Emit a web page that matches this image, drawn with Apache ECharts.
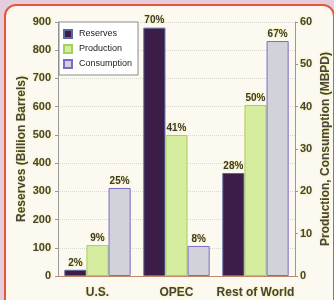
<!DOCTYPE html>
<html>
<head>
<meta charset="utf-8">
<script src="https://cdn.jsdelivr.net/npm/echarts@6/dist/echarts.min.js"></script>
<style>
  html, body { margin: 0; padding: 0; }
  body { width: 334px; height: 300px; background: #e4cddd; overflow: hidden; position: relative; }
  #frame {
    position: absolute; left: 4px; top: 4px; width: 327px; height: 310px;
    background: #fbf9f0; border: 2px solid #e8563a; border-radius: 12px;
  }
  #chart { position: absolute; left: 0; top: 0; width: 334px; height: 300px; }
</style>
</head>
<body>
<div id="frame"></div>
<div id="chart"></div>
<script>
var regions = ['U.S.', 'OPEC', 'Rest of World'];
var reserves = [22, 880, 365];
var production = [7.3, 33.3, 40.4];
var consumption = [20.8, 7.1, 55.5];
var reservesPct = ['2%', '70%', '28%'];
var productionPct = ['9%', '41%', '50%'];
var consumptionPct = ['25%', '8%', '67%'];

var glow = { textShadowColor: '#f2e25a', textShadowBlur: 2 };

function pctLabel(pcts) {
  return Object.assign({
    show: true,
    position: 'top',
    distance: 2,
    color: '#3a3a3a',
    fontSize: 10,
    fontWeight: 'bold',
    fontFamily: 'Liberation Sans',
    formatter: function (p) { return pcts[p.dataIndex]; }
  }, glow);
}

var chart = echarts.init(document.getElementById('chart'));

chart.setOption({
  animation: false,
  backgroundColor: 'transparent',
  textStyle: { fontFamily: 'Liberation Sans' },
  grid: { left: 58, right: 39, top: 22, bottom: 24, outerBoundsMode: 'none' },
  legend: {
    left: 59, top: 22,
    orient: 'vertical',
    itemWidth: 8, itemHeight: 8, itemGap: 5,
    padding: [7, 6, 6, 4],
    backgroundColor: '#ffffff',
    borderColor: '#8a8a8a', borderWidth: 1,
    icon: 'rect',
    textStyle: { fontSize: 9, color: '#222', padding: [0, 0, 0, 2] },
    data: ['Reserves', 'Production', 'Consumption']
  },
  xAxis: {
    type: 'category',
    data: regions,
    axisTick: { show: false },
    axisLine: { lineStyle: { color: '#c28a6a' } },
    axisLabel: Object.assign({ fontSize: 12, fontWeight: 'bold', color: '#444', margin: 11, interval: 0, hideOverlap: false }, glow)
  },
  yAxis: [
    {
      type: 'value', min: 0, max: 900, interval: 100,
      name: 'Reserves (Billion Barrels)',
      nameLocation: 'middle', nameGap: 30, nameMoveOverlap: false,
      nameTextStyle: Object.assign({ fontSize: 12, fontWeight: 'bold', color: '#444' }, glow),
      axisLine: { show: true, lineStyle: { color: '#999' } },
      axisTick: { show: true, length: 3, lineStyle: { color: '#999' } },
      axisLabel: Object.assign({ fontSize: 11, fontWeight: 'bold', color: '#444', margin: 7 }, glow),
      splitLine: { lineStyle: { color: '#d8d8d0', type: 'dotted' } }
    },
    {
      type: 'value', min: 0, max: 60, interval: 10,
      name: 'Production, Consumption (MBPD)',
      nameLocation: 'middle', nameGap: 25, nameMoveOverlap: false,
      nameTextStyle: Object.assign({ fontSize: 12, fontWeight: 'bold', color: '#444' }, glow),
      axisLine: { show: true, lineStyle: { color: '#999' } },
      axisTick: { show: true, length: 3, lineStyle: { color: '#999' } },
      axisLabel: Object.assign({ fontSize: 11, fontWeight: 'bold', color: '#444', margin: 5 }, glow),
      splitLine: { show: false }
    }
  ],
  series: [
    {
      name: 'Reserves', type: 'bar', yAxisIndex: 0,
      data: reserves, barGap: '0%', barCategoryGap: '16%',
      itemStyle: { color: '#3b1d48', borderColor: '#5a6aa0', borderWidth: 1 },
      label: pctLabel(reservesPct)
    },
    {
      name: 'Production', type: 'bar', yAxisIndex: 1,
      data: production,
      itemStyle: { color: '#d6eda0', borderColor: '#a6d05a', borderWidth: 1 },
      label: pctLabel(productionPct)
    },
    {
      name: 'Consumption', type: 'bar', yAxisIndex: 1,
      data: consumption,
      itemStyle: { color: '#d2d2da', borderColor: '#7b6cc4', borderWidth: 1 },
      label: pctLabel(consumptionPct)
    }
  ]
});
</script>
</body>
</html>
